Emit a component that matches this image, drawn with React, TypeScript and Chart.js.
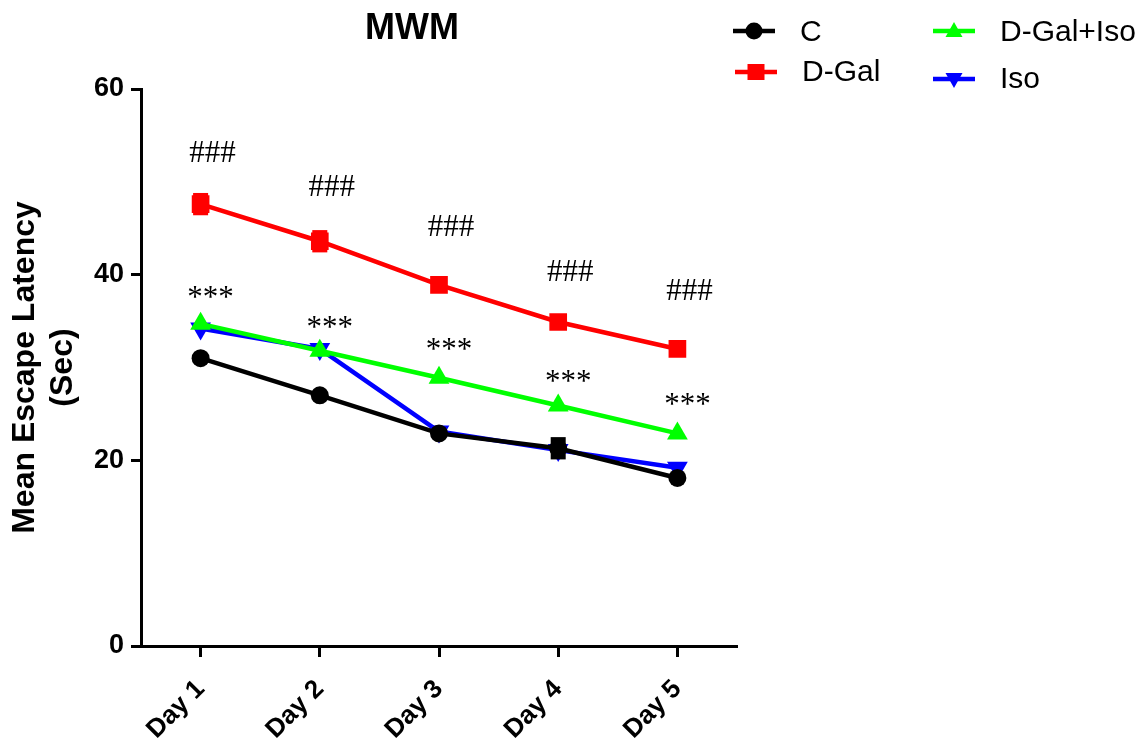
import React, { useEffect, useRef } from 'react';
import { Chart, registerables } from 'chart.js';

Chart.register(...registerables);

const days = ['Day 1', 'Day 2', 'Day 3', 'Day 4', 'Day 5'];
const cValues = [31.0, 27.0, 22.9, 21.3, 18.1];
const dGalValues = [47.6, 43.6, 38.9, 34.9, 32.0];
const dGalIsoValues = [34.7, 31.8, 28.9, 25.9, 22.9];
const isoValues = [34.2, 32.0, 23.1, 21.1, 19.2];
const cErrors = [0, 0, 0, 1.2, 0];
const dGalErrors = [1.2, 1.2, 0, 0, 0];
const dGalIsoErrors = [0, 0, 0, 0, 0];
const isoErrors = [0, 0, 0, 0, 0];
const hashLabelValues = [53.0, 49.4, 45.0, 40.2, 38.1];
const starLabelValues = [37.4, 34.2, 31.8, 28.3, 25.9];
const hashText = '###';
const starText = '***';
const yMin = 0;
const yMax = 60;
const yStep = 20;

const SANS = '"Liberation Sans", Arial, sans-serif';
const SERIF = '"Liberation Serif", "Times New Roman", serif';

function drawMarker(ctx: CanvasRenderingContext2D, style: string, x: number, y: number, color: string) {
  ctx.save();
  ctx.fillStyle = color;
  ctx.beginPath();
  if (style === 'circle') {
    ctx.arc(x, y, 8.5, 0, Math.PI * 2);
  } else if (style === 'rect') {
    ctx.rect(x - 8.5, y - 8, 17, 16);
  } else if (style === 'up') {
    ctx.moveTo(x, y - 9);
    ctx.lineTo(x + 8.5, y + 6);
    ctx.lineTo(x - 8.5, y + 6);
    ctx.closePath();
  } else if (style === 'down') {
    ctx.moveTo(x, y + 9);
    ctx.lineTo(x + 8.5, y - 6);
    ctx.lineTo(x - 8.5, y - 6);
    ctx.closePath();
  }
  ctx.fill();
  ctx.restore();
}

const errorPlugin = {
  id: 'errorBars',
  afterDatasetDraw(chart: any, args: any) {
    const ds: any = chart.data.datasets[args.index];
    const errs: number[] = ds.errors || [];
    const yScale = chart.scales.y;
    const ctx = chart.ctx;
    ctx.save();
    ctx.fillStyle = ds.borderColor;
    args.meta.data.forEach((pt: any, i: number) => {
      const e = errs[i];
      if (!e) return;
      const v = (ds.data as number[])[i];
      const top = yScale.getPixelForValue(v + e);
      const bot = yScale.getPixelForValue(v - e);
      ctx.fillRect(pt.x - 7.5, top, 15, bot - top);
    });
    ctx.restore();
  },
};

const annotationPlugin = {
  id: 'sigLabels',
  afterDatasetsDraw(chart: any) {
    const ctx = chart.ctx;
    const xs = chart.scales.x;
    const ys = chart.scales.y;
    ctx.save();
    ctx.fillStyle = '#000';
    ctx.font = `31px ${SERIF}`;
    ctx.textAlign = 'center';
    ctx.textBaseline = 'middle';
    hashLabelValues.forEach((v, i) => {
      ctx.fillText(hashText, xs.getPixelForValue(i) + 12, ys.getPixelForValue(v));
    });
    starLabelValues.forEach((v, i) => {
      ctx.fillText(starText, xs.getPixelForValue(i) + 10, ys.getPixelForValue(v));
    });
    ctx.restore();
  },
};

const legendItems = [
  { label: 'C', color: '#000000', style: 'circle', x: 754, y: 31, ty: 33 },
  { label: 'D-Gal', color: '#ff0000', style: 'rect', x: 756, y: 72, ty: 73 },
  { label: 'D-Gal+Iso', color: '#00ff00', style: 'up', x: 954, y: 31, ty: 33 },
  { label: 'Iso', color: '#0000ff', style: 'down', x: 954, y: 79, ty: 80 },
];

const decorPlugin = {
  id: 'decor',
  afterDraw(chart: any) {
    const ctx = chart.ctx;
    ctx.save();
    ctx.fillStyle = '#000';
    ctx.font = `bold 36px ${SANS}`;
    ctx.textAlign = 'center';
    ctx.textBaseline = 'middle';
    ctx.fillText('MWM', 412, 29);
    legendItems.forEach((it) => {
      ctx.strokeStyle = it.color;
      ctx.lineWidth = 4.5;
      ctx.beginPath();
      ctx.moveTo(it.x - 21, it.y);
      ctx.lineTo(it.x + 21, it.y);
      ctx.stroke();
      drawMarker(ctx, it.style, it.x, it.y, it.color);
      ctx.fillStyle = '#000';
      ctx.font = `30px ${SANS}`;
      ctx.textAlign = 'left';
      ctx.textBaseline = 'middle';
      ctx.fillText(it.label, it.x + 46, it.ty);
    });
    ctx.restore();
  },
};

export default function App() {
  const ref = useRef<HTMLCanvasElement | null>(null);

  useEffect(() => {
    if (!ref.current) return;
    const chart = new Chart(ref.current, {
      type: 'line',
      data: {
        labels: days,
        datasets: [
          {
            label: 'C',
            data: cValues,
            errors: cErrors,
            borderColor: '#000000',
            backgroundColor: '#000000',
            pointStyle: 'circle',
            pointRadius: 9,
          } as any,
          {
            label: 'D-Gal',
            data: dGalValues,
            errors: dGalErrors,
            borderColor: '#ff0000',
            backgroundColor: '#ff0000',
            pointStyle: 'rect',
            pointRadius: 12.5,
          } as any,
          {
            label: 'D-Gal+Iso',
            data: dGalIsoValues,
            errors: dGalIsoErrors,
            borderColor: '#00ff00',
            backgroundColor: '#00ff00',
            pointStyle: 'triangle',
            pointRadius: 12,
          } as any,
          {
            label: 'Iso',
            data: isoValues,
            errors: isoErrors,
            borderColor: '#0000ff',
            backgroundColor: '#0000ff',
            pointStyle: 'triangle',
            pointRotation: 180,
            pointRadius: 12,
          } as any,
        ],
      },
      options: {
        responsive: false,
        animation: false,
        layout: { padding: { top: 89, right: 409, bottom: 0, left: 0 } },
        elements: {
          line: { borderWidth: 4.5, tension: 0 },
          point: { borderWidth: 0, hoverRadius: 9 },
        },
        plugins: {
          legend: { display: false },
          title: { display: false },
          tooltip: { enabled: false },
        },
        scales: {
          x: {
            type: 'category',
            offset: true,
            afterFit: (s: any) => { s.height = 96; },
            border: { display: true, color: '#000', width: 3 },
            grid: {
              drawOnChartArea: false,
              drawTicks: true,
              tickLength: 11,
              tickWidth: 3,
              tickColor: '#000',
              offset: false,
            },
            ticks: {
              color: '#000',
              font: { family: SANS, size: 26, weight: 'bold' },
              minRotation: 45,
              maxRotation: 45,
              autoSkip: false,
              padding: 17,
            },
          },
          y: {
            min: yMin,
            max: yMax,
            afterFit: (s: any) => { s.width = 141; },
            border: { display: true, color: '#000', width: 3 },
            grid: {
              drawOnChartArea: false,
              drawTicks: true,
              tickLength: 10,
              tickWidth: 3,
              tickColor: '#000',
            },
            ticks: {
              stepSize: yStep,
              color: '#000',
              font: { family: SANS, size: 27, weight: 'bold' },
              padding: 7,
            },
            title: {
              display: true,
              text: ['Mean Escape Latency', '(Sec)'],
              color: '#000',
              font: { family: SANS, size: 32, weight: 'bold', lineHeight: 1.2 },
              padding: { top: 6, bottom: 0 },
            },
          },
        },
      },
      plugins: [errorPlugin, annotationPlugin, decorPlugin],
    } as any);
    return () => chart.destroy();
  }, []);

  return (
    <div style={{ position: 'fixed', left: 0, top: 0, width: 1146, height: 742, background: '#fff' }}>
      <canvas ref={ref} width={1146} height={742} style={{ display: 'block', width: 1146, height: 742 }} />
    </div>
  );
}
